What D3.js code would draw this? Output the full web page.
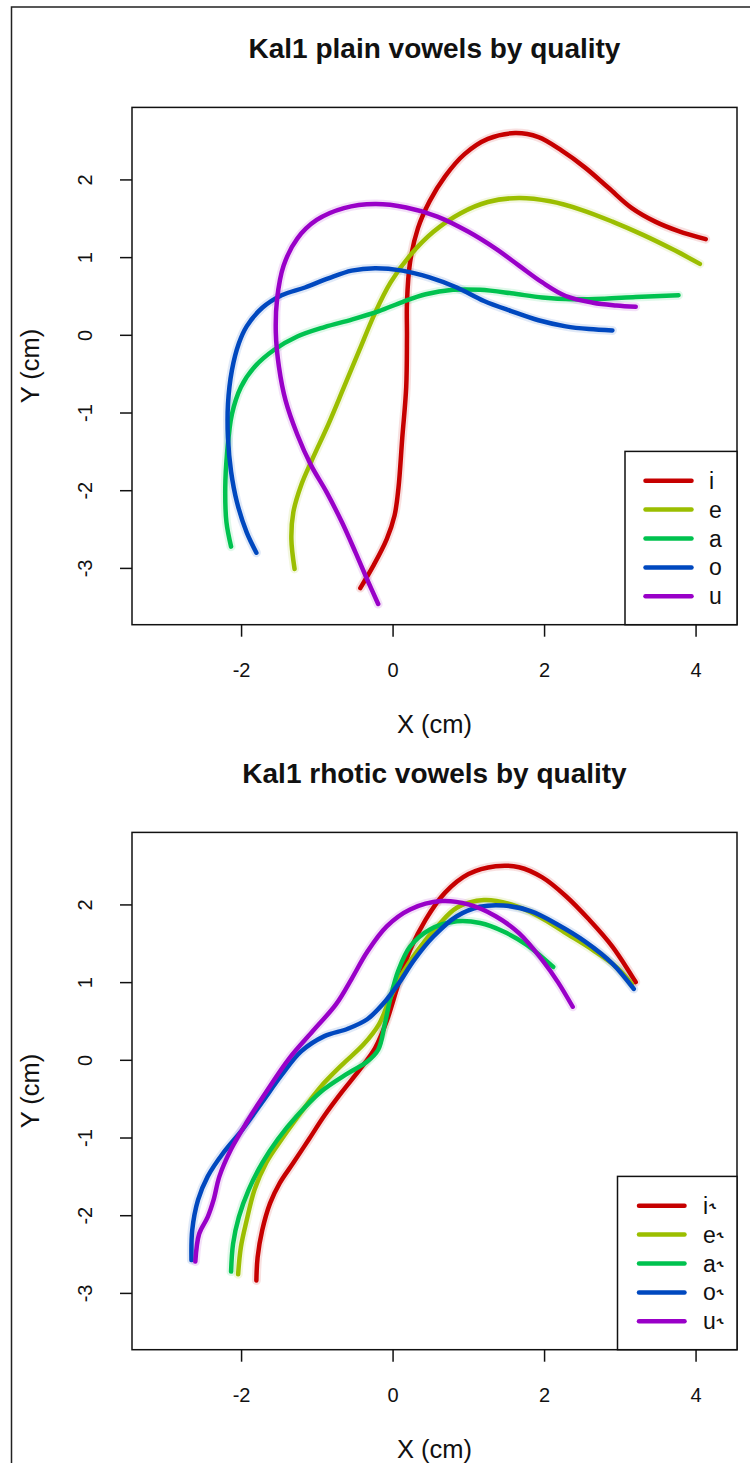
<!DOCTYPE html>
<html>
<head>
<meta charset="utf-8">
<script src="https://cdn.jsdelivr.net/npm/d3@7"></script>
<style>
  html, body { margin: 0; padding: 0; background: #fff; }
  svg { display: block; font-family: "Liberation Sans", Arial, Helvetica, sans-serif; }
</style>
</head>
<body>
<svg id="chart" width="750" height="1463"></svg>
<script>
// Tongue contour smooths (X, Y in cm), one array per vowel.
const vowelLabelsPlain = ["i", "e", "a", "o", "u"];
const vowelLabelsRhotic = ["i", "e", "a", "o", "u"];
const rhoticHook = "\u02DE";
const vowelColors = ["#C60000", "#9BBE00", "#00C24F", "#0048BF", "#9900C8"];
const xTicks = [-2, 0, 2, 4];
const yTicks = [-3, -2, -1, 0, 1, 2];

const plainI = [[-0.426,-3.26],[-0.257,-2.978],[-0.077,-2.63],[0.026,-2.326],[0.077,-1.978],[0.128,-1.326],[0.180,-0.674],[0.190,-0.022],[0.190,0.413],[0.231,0.935],[0.334,1.370],[0.488,1.718],[0.693,2.04],[0.95,2.326],[1.258,2.522],[1.618,2.596],[1.926,2.544],[2.234,2.37],[2.542,2.152],[2.85,1.892],[3.159,1.631],[3.467,1.457],[3.775,1.335],[4.134,1.231]];
const plainE = [[-1.294,-3.013],[-1.336,-2.63],[-1.31,-2.282],[-1.207,-1.935],[-1.053,-1.587],[-0.848,-1.152],[-0.642,-0.674],[-0.437,-0.195],[-0.231,0.283],[-0.026,0.674],[0.231,1.022],[0.539,1.326],[0.899,1.565],[1.258,1.709],[1.669,1.761],[2.08,1.718],[2.491,1.609],[2.902,1.457],[3.313,1.283],[3.724,1.087],[4.057,0.913]];
const plainA = [[-2.132,-2.726],[-2.193,-2.413],[-2.209,-1.978],[-2.183,-1.5],[-2.121,-1.022],[-2.003,-0.674],[-1.823,-0.413],[-1.567,-0.195],[-1.258,-0.022],[-0.899,0.1],[-0.54,0.196],[-0.18,0.305],[0.128,0.422],[0.437,0.522],[0.796,0.579],[1.156,0.579],[1.566,0.535],[1.977,0.479],[2.388,0.457],[2.799,0.465],[3.21,0.487],[3.775,0.509]];
const plainO = [[-1.798,-2.804],[-1.926,-2.543],[-2.055,-2.152],[-2.132,-1.761],[-2.173,-1.326],[-2.173,-0.891],[-2.121,-0.456],[-2.029,-0.109],[-1.926,0.109],[-1.72,0.348],[-1.464,0.509],[-1.156,0.609],[-0.848,0.726],[-0.54,0.826],[-0.231,0.857],[0.128,0.826],[0.488,0.739],[0.848,0.609],[1.207,0.435],[1.566,0.305],[1.926,0.187],[2.286,0.109],[2.594,0.074],[2.902,0.057]];
const plainU = [[-0.19,-3.465],[-0.334,-3.152],[-0.488,-2.804],[-0.668,-2.413],[-0.873,-2.022],[-1.079,-1.674],[-1.258,-1.283],[-1.412,-0.848],[-1.5,-0.413],[-1.541,0.022],[-1.525,0.457],[-1.438,0.891],[-1.258,1.239],[-1.002,1.478],[-0.642,1.631],[-0.231,1.683],[0.18,1.639],[0.591,1.522],[1.002,1.326],[1.361,1.109],[1.669,0.891],[1.977,0.674],[2.286,0.5],[2.645,0.413],[2.953,0.378],[3.21,0.361]];

const rhoticI = [[-1.798,-2.839],[-1.782,-2.543],[-1.721,-2.195],[-1.618,-1.848],[-1.49,-1.587],[-1.31,-1.326],[-1.104,-1.022],[-0.899,-0.717],[-0.668,-0.413],[-0.437,-0.13],[-0.231,0.152],[-0.077,0.5],[0.077,0.978],[0.231,1.413],[0.437,1.805],[0.693,2.152],[1.002,2.391],[1.361,2.492],[1.669,2.479],[1.977,2.348],[2.286,2.109],[2.594,1.805],[2.902,1.457],[3.21,1.0]];
const rhoticE = [[-2.039,-2.761],[-2.003,-2.413],[-1.926,-2.065],[-1.823,-1.674],[-1.669,-1.326],[-1.464,-1.022],[-1.207,-0.674],[-0.95,-0.348],[-0.668,-0.065],[-0.385,0.196],[-0.18,0.457],[-0.026,0.805],[0.128,1.109],[0.334,1.413],[0.591,1.718],[0.848,1.957],[1.207,2.057],[1.566,2.0],[1.926,1.848],[2.286,1.631],[2.645,1.413],[2.953,1.196],[3.158,0.978]];
const rhoticA = [[-2.132,-2.726],[-2.106,-2.37],[-2.029,-2.022],[-1.9,-1.674],[-1.72,-1.326],[-1.515,-1.022],[-1.258,-0.717],[-0.95,-0.413],[-0.591,-0.174],[-0.334,-0.022],[-0.19,0.13],[-0.103,0.457],[-0.026,0.805],[0.077,1.152],[0.231,1.457],[0.488,1.674],[0.848,1.783],[1.156,1.761],[1.464,1.652],[1.772,1.478],[2.121,1.196]];
const rhoticO = [[-2.655,-2.578],[-2.645,-2.195],[-2.568,-1.804],[-2.44,-1.5],[-2.234,-1.196],[-1.977,-0.891],[-1.72,-0.543],[-1.464,-0.195],[-1.207,0.109],[-0.899,0.305],[-0.591,0.4],[-0.334,0.522],[-0.128,0.717],[0.077,0.978],[0.283,1.283],[0.539,1.587],[0.848,1.848],[1.156,1.97],[1.464,1.987],[1.823,1.913],[2.183,1.739],[2.542,1.522],[2.902,1.239],[3.184,0.913]];
const rhoticU = [[-2.604,-2.596],[-2.553,-2.239],[-2.44,-2.022],[-2.363,-1.804],[-2.286,-1.5],[-2.132,-1.152],[-1.926,-0.804],[-1.669,-0.413],[-1.361,0.022],[-1.053,0.37],[-0.745,0.717],[-0.54,1.043],[-0.334,1.391],[-0.077,1.718],[0.231,1.935],[0.642,2.043],[1.002,2.0],[1.361,1.848],[1.669,1.631],[1.977,1.283],[2.183,1.0],[2.378,0.683]];

const svg = d3.select("#chart");

// outer device border
svg.append("rect")
  .attr("x", 11.5).attr("y", 7)
  .attr("width", 900).attr("height", 1600)
  .attr("fill", "none").attr("stroke", "#222").attr("stroke-width", 1.5);

const panels = [
  { title: "Kal1 plain vowels by quality", top: 107.4, bottom: 624.7,
    series: [plainI, plainE, plainA, plainO, plainU], labels: vowelLabelsPlain, hook: false,
    legend: { x: 625, y: 451.4, lineX0: 645.5, lineX1: 691.5, textX: 709 } },
  { title: "Kal1 rhotic vowels by quality", top: 832.4, bottom: 1349.7,
    series: [rhoticI, rhoticE, rhoticA, rhoticO, rhoticU], labels: vowelLabelsRhotic, hook: true,
    legend: { x: 617.5, y: 1176.4, lineX0: 639, lineX1: 684.5, textX: 703 } }
];

const left = 132, right = 737;
const fmt = d => d < 0 ? "-" + Math.abs(d) : String(d);

panels.forEach(p => {
  const x = d3.scaleLinear().domain([-3.44, 4.547]).range([left, right]);
  const y = d3.scaleLinear().domain([-3.731, 2.927]).range([p.bottom, p.top]);
  const g = svg.append("g");

  const line = d3.line()
    .x(d => x(d[0])).y(d => y(d[1]))
    .curve(d3.curveCatmullRom.alpha(0.5));

  // faint band, then the contour on top
  p.series.forEach((s, i) => {
    g.append("path").attr("d", line(s))
      .attr("fill", "none").attr("stroke", vowelColors[i])
      .attr("stroke-opacity", 0.12).attr("stroke-width", 9)
      .attr("stroke-linecap", "round").attr("stroke-linejoin", "round");
  });
  p.series.forEach((s, i) => {
    g.append("path").attr("d", line(s))
      .attr("fill", "none").attr("stroke", vowelColors[i])
      .attr("stroke-width", 4.5)
      .attr("stroke-linecap", "round").attr("stroke-linejoin", "round");
  });

  // plot box
  g.append("rect")
    .attr("x", left).attr("y", p.top)
    .attr("width", right - left).attr("height", p.bottom - p.top)
    .attr("fill", "none").attr("stroke", "#111").attr("stroke-width", 1.5);

  // axes
  const xa = g.append("g").attr("transform", `translate(0,${p.bottom})`)
    .call(d3.axisBottom(x).tickValues(xTicks).tickSize(12).tickFormat(fmt));
  xa.select(".domain").remove();
  xa.selectAll("line").attr("stroke", "#111").attr("stroke-width", 1.5);
  xa.selectAll("text")
    .attr("font-size", 20).attr("fill", "#111")
    .attr("font-family", "Liberation Sans, Arial, sans-serif")
    .attr("y", 52.5).attr("dy", null);

  const ya = g.append("g").attr("transform", `translate(${left},0)`)
    .call(d3.axisLeft(y).tickValues(yTicks).tickSize(12).tickFormat(fmt));
  ya.select(".domain").remove();
  ya.selectAll("line").attr("stroke", "#111").attr("stroke-width", 1.5);
  ya.selectAll("text")
    .attr("font-size", 20).attr("fill", "#111")
    .attr("font-family", "Liberation Sans, Arial, sans-serif")
    .attr("x", null).attr("dy", null)
    .attr("text-anchor", "middle")
    .attr("transform", "translate(-47.5,0) rotate(-90)")
    .attr("y", 7);

  // titles and axis labels
  g.append("text")
    .attr("x", (left + right) / 2).attr("y", p.top - 49.5)
    .attr("text-anchor", "middle").attr("font-weight", "bold")
    .attr("font-size", 28).attr("fill", "#111")
    .text(p.title);
  g.append("text")
    .attr("x", (left + right) / 2).attr("y", p.bottom + 108.5)
    .attr("text-anchor", "middle").attr("font-size", 25.5).attr("fill", "#111")
    .text("X (cm)");
  g.append("text")
    .attr("transform", `translate(38.5,${(p.top + p.bottom) / 2}) rotate(-90)`)
    .attr("text-anchor", "middle").attr("font-size", 25.5).attr("fill", "#111")
    .text("Y (cm)");

  // legend
  const L = p.legend;
  const lg = g.append("g");
  lg.append("rect")
    .attr("x", L.x).attr("y", L.y)
    .attr("width", right - L.x).attr("height", p.bottom - L.y)
    .attr("fill", "#fff").attr("stroke", "#111").attr("stroke-width", 1.5);
  const rowY = i => L.y + 29.3 + i * 28.9;
  p.labels.forEach((lab, i) => {
    lg.append("line")
      .attr("x1", L.lineX0).attr("x2", L.lineX1)
      .attr("y1", rowY(i)).attr("y2", rowY(i))
      .attr("stroke", vowelColors[i]).attr("stroke-width", 4.5)
      .attr("stroke-linecap", "round");
    const t = lg.append("text")
      .attr("x", L.textX).attr("y", rowY(i) + 8)
      .attr("font-size", 23).attr("fill", "#111")
      .text(lab);
    if (p.hook) {
      t.append("tspan")
        .attr("font-family", "DejaVu Sans")
        .attr("font-size", 20)
        .attr("dx", 1)
        .text(rhoticHook);
    }
  });
});
</script>
</body>
</html>
